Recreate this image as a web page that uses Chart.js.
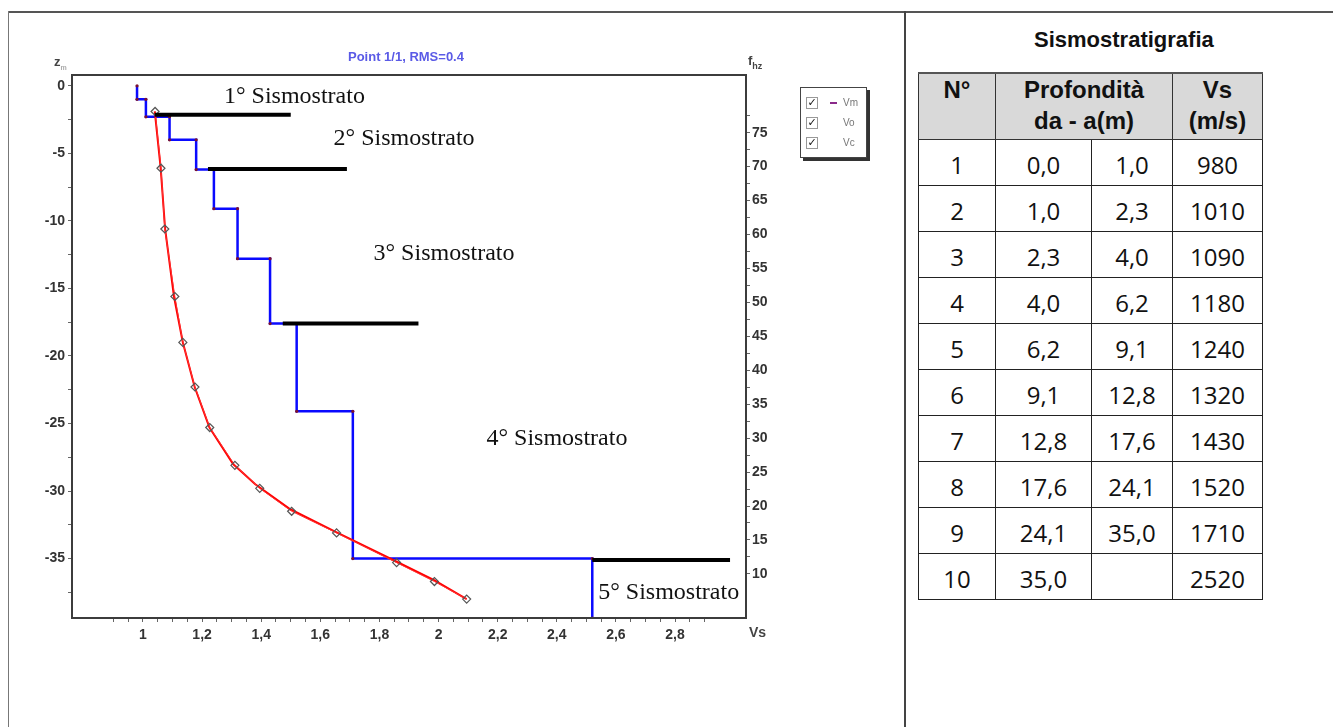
<!DOCTYPE html>
<html>
<head>
<meta charset="utf-8">
<script src="https://cdn.jsdelivr.net/npm/chart.js@4/dist/chart.umd.min.js"></script>
<style>
  body { margin: 0; width: 1333px; height: 727px; position: relative; background: #fff; overflow: hidden; }
  .abs { position: absolute; }
  .lbl { font-family: "Liberation Sans", Arial, sans-serif; font-weight: bold; color: #444; }
  #chartBox { left: 0; top: 0; width: 900px; height: 727px; }
  #legendBox { left: 800px; top: 87px; width: 65px; height: 69px; border: 1px solid #444; box-shadow: 3px 3px 0 #333; background: #fff; }
  .lgRow { position: absolute; left: 5px; height: 12px; font: 10px "Liberation Sans", Arial, sans-serif; color: #777; }
  .cb { position: absolute; left: 0; top: 0; width: 10px; height: 10px; border: 1px solid #999; font: bold 11px "DejaVu Sans", sans-serif; line-height: 10px; text-align: center; color: #111; }
  #tabTitle { left: 1034px; top: 27px; font: bold 22px "Liberation Sans", Arial, sans-serif; color: #111; }
  #strat { left: 918px; top: 72px; border-collapse: collapse; table-layout: fixed; width: 344px; }
  #strat th { background: #d9d9d9; font: bold 24px "Liberation Sans", Arial, sans-serif; color: #111; line-height: 31px; height: 65px; padding: 0; vertical-align: top; border: 1px solid #333; border-top: 2px solid #555; }
  #strat td { font: 24px "Open Sans", sans-serif; color: #111; height: 42px; padding: 0; text-align: center; vertical-align: middle; border: 1px solid #222; padding-top: 3px; }
</style>
</head>
<body>
<div class="abs" style="left:8px; top:11px; width:1325px; height:2px; background:#555"></div>
<div class="abs" style="left:8px; top:11px; width:1px; height:716px; background:#777"></div>
<div class="abs" style="left:904px; top:11px; width:2px; height:716px; background:#444"></div>

<div id="chartBox" class="abs"><canvas id="profile"></canvas></div>

<div class="abs" style="left:348px; top:49px; font:bold 13px 'Liberation Sans', Arial, sans-serif; color:#5a5ae6">Point 1/1, RMS=0.4</div>
<div class="abs lbl" style="left:54px; top:54px; font-size:13px">z<sub style="font-size:7px; color:#aaa">m</sub></div>
<div class="abs lbl" style="left:748px; top:53px; font-size:13px">f<sub style="font-size:9px">hz</sub></div>
<div class="abs lbl" style="left:749px; top:624px; font-size:14px">Vs</div>

<div id="legendBox" class="abs">
  <div class="lgRow" style="top:9px"><span class="cb">✓</span><span style="position:absolute; left:24px; top:5px; width:7px; height:2px; background:#8a2a8a"></span><span style="position:absolute; left:37px; top:0">Vm</span></div>
  <div class="lgRow" style="top:29px"><span class="cb">✓</span><span style="position:absolute; left:37px; top:0">Vo</span></div>
  <div class="lgRow" style="top:49px"><span class="cb">✓</span><span style="position:absolute; left:37px; top:0">Vc</span></div>
</div>

<div id="tabTitle" class="abs">Sismostratigrafia</div>
<table id="strat" class="abs">
  <colgroup><col style="width:77px"><col style="width:96px"><col style="width:81px"><col style="width:90px"></colgroup>
  <thead><tr><th>N°</th><th colspan="2">Profondità<br>da - a(m)</th><th>Vs<br>(m/s)</th></tr></thead>
  <tbody id="stratBody"></tbody>
</table>

<script>
// layered model (Vs in m/s, depth in m)
const layerVs = [980, 1010, 1090, 1180, 1240, 1320, 1430, 1520, 1710, 2520];
const depthFrom = [0.0, 1.0, 2.3, 4.0, 6.2, 9.1, 12.8, 17.6, 24.1, 35.0];
const depthTo = [1.0, 2.3, 4.0, 6.2, 9.1, 12.8, 17.6, 24.1, 35.0, null];

// observed points (diamonds), Vs in km/s vs depth z
const voVs = [1.041, 1.061, 1.074, 1.108, 1.135, 1.176, 1.226, 1.311, 1.395, 1.503, 1.655, 1.858, 1.986, 2.095];
const voZ = [-1.9, -6.1, -10.6, -15.6, -19.0, -22.3, -25.3, -28.1, -29.8, -31.5, -33.1, -35.3, -36.7, -38.0];
// computed curve
const vcVs = [1.04, 1.06, 1.075, 1.105, 1.135, 1.175, 1.225, 1.305, 1.38, 1.495, 1.65, 1.855, 1.985, 2.095];
const vcZ = [-1.9, -6.1, -10.6, -15.6, -19.0, -22.3, -25.3, -28.0, -29.5, -31.3, -33.0, -35.2, -36.6, -38.0];

// stratum boundaries (black bars) and their labels
const boundaryZ = [-2.15, -6.15, -17.6, -35.1];
const boundaryFrom = [1.04, 1.22, 1.473, 2.52];
const boundaryTo = [1.50, 1.69, 1.932, 2.986];
const strataNames = ["1° Sismostrato", "2° Sismostrato", "3° Sismostrato", "4° Sismostrato", "5° Sismostrato"];
const strataVs = [1.274, 1.645, 1.78, 2.162, 2.54];
const strataZ = [-0.8, -3.9, -12.4, -26.1, -37.5];

// axes
const zMin = -39.4, zMax = 0.8;
const vsMin = 0.76, vsMax = 3.04;
const fMin = 3.5, fMax = 83.5;

// table
const fmt = v => v == null ? "" : v.toFixed(1).replace(".", ",");
document.getElementById("stratBody").innerHTML = layerVs.map((v, i) =>
  `<tr><td>${i + 1}</td><td>${fmt(depthFrom[i])}</td><td>${fmt(depthTo[i])}</td><td>${v}</td></tr>`).join("");

// step profile
const stepPts = [];
layerVs.forEach((v, i) => {
  const bottom = depthTo[i] == null ? zMin : -depthTo[i];
  stepPts.push({ x: v / 1000, y: -depthFrom[i] }, { x: v / 1000, y: bottom });
});

const boundarySets = boundaryZ.map((z, i) => ({
  data: [{ x: boundaryFrom[i], y: z }, { x: boundaryTo[i], y: z }],
  showLine: true, borderColor: "#000", borderWidth: 4, pointRadius: 0, borderCapStyle: "butt",
}));

const rangeTicks = (from, to, step) => {
  const out = [];
  for (let v = from; v <= to + 1e-9; v += step) out.push({ value: Math.round(v * 100) / 100 });
  return out;
};
const isMult = (v, m) => Math.abs(v / m - Math.round(v / m)) < 1e-6;
const tickFont = { family: "'Liberation Sans', Arial, sans-serif", size: 14, weight: "bold" };

const frame = {
  id: "frame",
  afterDatasetsDraw(chart) {
    const { ctx, chartArea: a, scales: { x, y } } = chart;
    ctx.save();
    ctx.font = '24px "Liberation Serif", "Times New Roman", serif';
    ctx.fillStyle = "#111";
    ctx.textBaseline = "middle";
    strataNames.forEach((t, i) => ctx.fillText(t, x.getPixelForValue(strataVs[i]), y.getPixelForValue(strataZ[i])));
    ctx.strokeStyle = "#3c3c3c";
    ctx.lineWidth = 2;
    ctx.strokeRect(a.left, a.top, a.width, a.height);
    ctx.restore();
  }
};

new Chart(document.getElementById("profile"), {
  type: "scatter",
  data: {
    datasets: [
      ...boundarySets,
      {
        label: "Vo",
        data: voVs.map((v, i) => ({ x: v, y: voZ[i] })),
        showLine: true, borderColor: "#ff3030", borderWidth: 1,
        pointStyle: "rectRot", pointRadius: 4, pointBorderColor: "#555", pointBackgroundColor: "rgba(255,255,255,0)", pointBorderWidth: 1.2,
      },
      {
        label: "Vc",
        data: vcVs.map((v, i) => ({ x: v, y: vcZ[i] })),
        showLine: true, borderColor: "#ff0000", borderWidth: 2, pointRadius: 0,
      },
      {
        label: "Vm",
        data: stepPts,
        showLine: true, borderColor: "#0a0aff", borderWidth: 2.5,
        pointRadius: 1.6, pointBackgroundColor: "#7a1030", pointBorderWidth: 0,
      },
    ]
  },
  options: {
    responsive: true, maintainAspectRatio: false, animation: false, devicePixelRatio: 1,
    layout: { padding: { left: 0, top: 75, right: 114, bottom: 79 } },
    plugins: { legend: { display: false }, tooltip: { enabled: false } },
    scales: {
      x: {
        type: "linear", min: vsMin, max: vsMax,
        afterBuildTicks: s => { s.ticks = rangeTicks(0.9, 2.9, 0.05); },
        afterFit: s => { s.height = 30; },
        ticks: {
          font: tickFont, color: "#333", padding: 5, autoSkip: false, maxRotation: 0,
          callback: v => (isMult(v, 0.2) && v >= 1 && v <= 2.8) ? String(+v.toFixed(1)).replace(".", ",") : ""
        },
        grid: { drawOnChartArea: false, tickLength: 4, tickColor: "#666" },
        border: { display: false },
      },
      y: {
        type: "linear", position: "left", min: zMin, max: zMax,
        afterBuildTicks: s => { s.ticks = rangeTicks(-37.5, 0, 2.5); },
        afterFit: s => { s.width = 72; },
        ticks: {
          font: tickFont, color: "#333", padding: 3, autoSkip: false,
          callback: v => isMult(v, 5) ? String(v) : ""
        },
        grid: { drawOnChartArea: false, tickLength: 4, tickColor: "#666" },
        border: { display: false },
      },
      f: {
        type: "linear", position: "right", display: true, min: fMin, max: fMax,
        afterBuildTicks: s => { s.ticks = rangeTicks(10, 77.5, 2.5); },
        afterFit: s => { s.width = 40; },
        ticks: {
          font: tickFont, color: "#333", padding: 2, autoSkip: false,
          callback: v => isMult(v, 5) ? String(v) : ""
        },
        grid: { drawOnChartArea: false, tickLength: 4, tickColor: "#666" },
        border: { display: false },
      },
    }
  },
  plugins: [frame]
});
</script>
</body>
</html>
